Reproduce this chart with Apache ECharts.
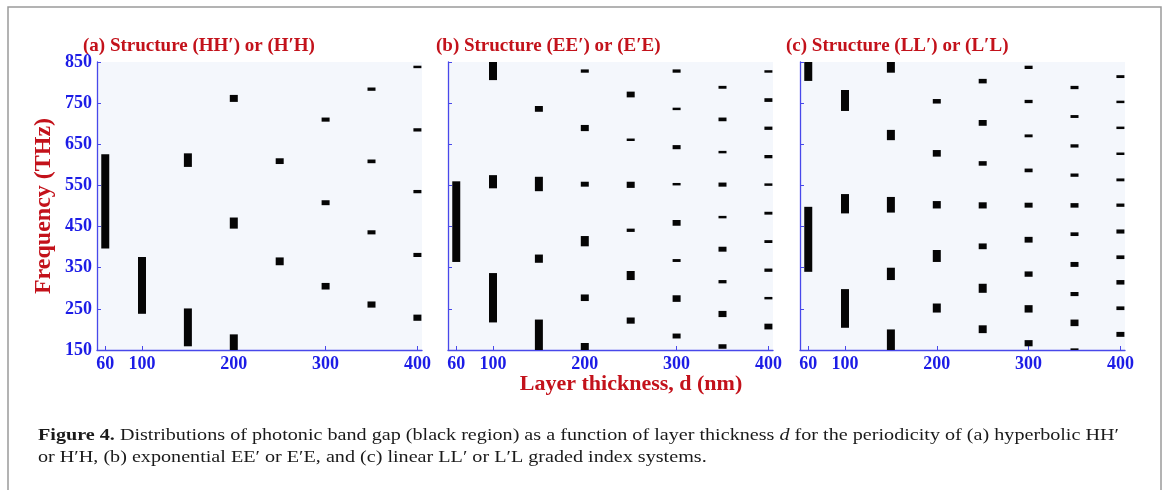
<!DOCTYPE html>
<html>
<head>
<meta charset="utf-8">
<script src="https://cdn.jsdelivr.net/npm/echarts@6/dist/echarts.min.js"></script>
<style>html,body{margin:0;padding:0;background:#fff}#c{width:1170px;height:490px}</style>
</head>
<body>
<div id="c"></div>
<script>
// Thickness ticks (nm) and frequency ticks (THz)
const thicknessTicks = [60, 100, 200, 300, 400];
const freqTicks = [150, 250, 350, 450, 550, 650, 750, 850];

// Band gaps: [layer thickness d (nm), lower edge (THz), upper edge (THz)]
const gapsHH = [
  [60,397,626],
  [100,238,376],
  [150,595,628],[150,159,251],
  [200,753,770],[200,445,472],[200,150,188],
  [250,602,616],[250,356,375],
  [300,705,715],[300,502,514],[300,297,313],
  [350,780,788],[350,604,613],[350,431,441],[350,253,268],
  [400,835,841],[400,681,689],[400,531,539],[400,376,386],[400,221,236]
];
const gapsEE = [
  [60,364,560],
  [100,806,852],[100,543,575],[100,217,337],
  [150,729,743],[150,536,571],[150,362,382],[150,150,224],
  [200,824,832],[200,682,697],[200,547,559],[200,402,427],[200,269,285],[200,150,167],
  [250,764,778],[250,658,664],[250,544,559],[250,437,445],[250,320,342],[250,214,229],
  [300,824,832],[300,733,739],[300,638,648],[300,550,556],[300,452,466],[300,364,371],[300,267,283],[300,178,190],
  [350,785,792],[350,706,715],[350,628,634],[350,547,557],[350,470,476],[350,389,401],[350,312,320],[350,230,245],[350,153,164],
  [400,824,830],[400,753,762],[400,685,693],[400,616,624],[400,549,555],[400,479,486],[400,410,417],[400,340,348],[400,273,279],[400,200,214]
];
const gapsLL = [
  [60,804,852],[60,340,498],
  [100,731,782],[100,482,529],[100,204,298],
  [150,824,852],[150,660,685],[150,484,522],[150,320,350],[150,150,200],
  [200,749,760],[200,620,636],[200,494,512],[200,364,393],[200,241,263],
  [250,798,809],[250,695,709],[250,598,609],[250,494,509],[250,395,409],[250,289,311],[250,191,210],
  [300,833,841],[300,750,758],[300,667,674],[300,582,591],[300,496,508],[300,411,425],[300,328,341],[300,241,259],[300,159,174],
  [350,784,792],[350,714,721],[350,642,650],[350,571,579],[350,496,507],[350,427,436],[350,352,364],[350,281,291],[350,208,224],[350,150,154],
  [400,811,818],[400,750,756],[400,687,693],[400,624,630],[400,560,567],[400,498,506],[400,433,443],[400,371,380],[400,309,320],[400,247,256],[400,182,194]
];

const panelTitles = ['(a) Structure (HH\u2032) or (H\u2032H)', '(b) Structure (EE\u2032) or (E\u2032E)', '(c) Structure (LL\u2032) or (L\u2032L)'];
const xName = 'Layer thickness, d (nm)';
const yName = 'Frequency (THz)';
const captionLine1 = '{b|Figure 4.} Distributions of photonic band gap (black region) as a function of layer thickness {i|d} for the periodicity of (a) hyperbolic HH\u2032';
const captionLine2 = 'or H\u2032H, (b) exponential EE\u2032 or E\u2032E, and (c) linear LL\u2032 or L\u2032L graded index systems.';

const SERIF = '"Liberation Serif", "Times New Roman", serif';
const AXIS_BLUE = '#4848ea';
const LABEL_BLUE = '#1c1ce6';
const RED = '#c3121b';

const gridLefts = [97, 448, 800];
const gridWidth = 325;
const gridTop = 62, gridHeight = 288;

const allGaps = [gapsHH, gapsEE, gapsLL];

const grids = gridLefts.map(l => ({
  left: l, top: gridTop, width: gridWidth, height: gridHeight,
  show: true, backgroundColor: '#f4f7fc', borderWidth: 0
}));

const xAxes = gridLefts.map((l, i) => ({
  type: 'value', gridIndex: i, min: 51, max: 405,
  splitLine: { show: false },
  axisLine: { show: true, lineStyle: { color: AXIS_BLUE, width: 1.3 } },
  axisTick: { show: true, inside: true, length: 4, customValues: thicknessTicks, lineStyle: { color: AXIS_BLUE } },
  axisLabel: { show: true, customValues: thicknessTicks, color: LABEL_BLUE, fontFamily: SERIF, fontWeight: 'bold', fontSize: 18, margin: 5 }
}));

const yAxes = gridLefts.map((l, i) => ({
  type: 'value', gridIndex: i, min: 150, max: 850,
  splitLine: { show: false },
  axisLine: { show: true, lineStyle: { color: AXIS_BLUE, width: 1.3 } },
  axisTick: { show: true, inside: true, length: 4, customValues: freqTicks, lineStyle: { color: AXIS_BLUE } },
  axisLabel: { show: i === 0, customValues: freqTicks, color: LABEL_BLUE, fontFamily: SERIF, fontWeight: 'bold', fontSize: 18, margin: 5 }
}));

function renderGap(params, api) {
  const x = api.value(0), lo = api.value(1), hi = api.value(2);
  const pTop = api.coord([x, hi]);
  const pBot = api.coord([x, lo]);
  const w = 8;
  return {
    type: 'rect',
    shape: { x: pTop[0] - w / 2, y: pTop[1], width: w, height: Math.max(pBot[1] - pTop[1], 1) },
    style: { fill: '#050505' }
  };
}

const series = allGaps.map((g, i) => ({
  type: 'custom', xAxisIndex: i, yAxisIndex: i,
  renderItem: renderGap, data: g, clip: true, silent: true,
  encode: { x: 0, y: [1, 2] }
}));

const titleX = [83, 436, 786];
const graphics = [
  { type: 'rect', shape: { x: 8, y: 7, width: 1153, height: 500 }, style: { fill: 'none', stroke: '#9a9a9a', lineWidth: 1.5 }, z: 10 },
  ...panelTitles.map((t, i) => ({
    type: 'text', x: titleX[i], y: 46,
    style: { text: t, fill: RED, font: 'bold 19px ' + SERIF, textAlign: 'left', textVerticalAlign: 'middle' }
  })),
  { type: 'text', x: 631, y: 384, style: { text: xName, fill: RED, font: 'bold 22px ' + SERIF, textAlign: 'center', textVerticalAlign: 'middle' } },
  { type: 'text', x: 44, y: 206, rotation: Math.PI / 2, style: { text: yName, fill: RED, font: 'bold 24px ' + SERIF, textAlign: 'center', textVerticalAlign: 'middle' } },
  { type: 'text', x: 38, y: 436, scaleX: 1.185, style: { text: captionLine1, fill: '#1a1a1a', font: '17px ' + SERIF, textVerticalAlign: 'middle', rich: { b: { fontWeight: 'bold', fontSize: 17, fontFamily: SERIF }, i: { fontStyle: 'italic', fontSize: 17, fontFamily: SERIF } } } },
  { type: 'text', x: 38, y: 458, scaleX: 1.185, style: { text: captionLine2, fill: '#1a1a1a', font: '17px ' + SERIF, textVerticalAlign: 'middle' } }
];

const chart = echarts.init(document.getElementById('c'), null, { renderer: 'canvas' });
chart.setOption({
  animation: false,
  backgroundColor: '#ffffff',
  grid: grids,
  xAxis: xAxes,
  yAxis: yAxes,
  series: series,
  graphic: graphics
});
</script>
</body>
</html>
